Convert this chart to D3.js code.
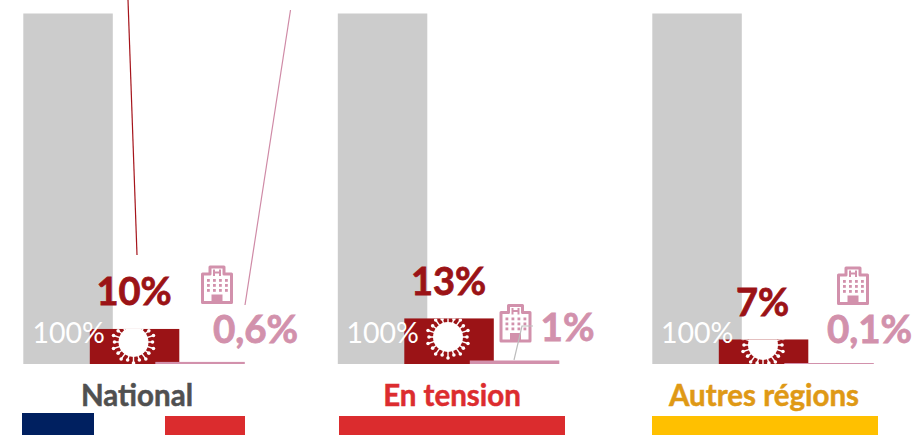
<!DOCTYPE html>
<html>
<head>
<meta charset="utf-8">
<script src="https://cdn.jsdelivr.net/npm/d3@7"></script>
<style>
  html, body { margin: 0; padding: 0; background: #fff; }
  text { font-family: Lato, "Open Sans", sans-serif; }
</style>
</head>
<body>
<svg id="chart" width="917" height="435"></svg>
<script>
// data
const regions = ["National", "En tension", "Autres régions"];
const totalValues = [100, 100, 100];
const caseValues = [10, 13, 7];
const hospValues = [0.6, 1, 0.1];
const totalLabels = ["100%", "100%", "100%"];
const caseLabels = ["10%", "13%", "7%"];
const hospLabels = ["0,6%", "1%", "0,1%"];
const regionColors = ["#505050", "#dc2c2f", "#df9915"];

const svg = d3.select("#chart");

// one group every 314.5px, bars overlap each other inside the group
const x = d3.scaleLinear().domain([0, 1]).range([23.3, 337.8]);
const y = d3.scaleLinear().domain([0, 100]).range([364, 13.5]);
const barW = 89.5;
const offsets = { total: 0, cases: 66.5, hosp: 132 };

const grey = "#cccccc", red = "#9b1316", pink = "#d291ac";

const groups = svg.selectAll("g.region")
  .data(regions)
  .join("g")
    .attr("class", "region");

// grey bars
groups.append("rect")
  .attr("x", (d, i) => x(i) + offsets.total)
  .attr("y", (d, i) => y(totalValues[i]))
  .attr("width", barW)
  .attr("height", (d, i) => y(0) - y(totalValues[i]))
  .attr("fill", grey);

// red bars
groups.append("rect")
  .attr("x", (d, i) => x(i) + offsets.cases)
  .attr("y", (d, i) => y(caseValues[i]))
  .attr("width", barW)
  .attr("height", (d, i) => y(0) - y(caseValues[i]))
  .attr("fill", red);

// pink bars, the smallest one still shows as a thin line
groups.append("rect")
  .attr("x", (d, i) => x(i) + offsets.hosp)
  .attr("y", (d, i) => Math.min(y(hospValues[i]), y(0) - 1))
  .attr("width", barW)
  .attr("height", (d, i) => Math.max(y(0) - y(hospValues[i]), 1))
  .attr("fill", pink);

// virus icon, cut off by the red bar
const virusPos = [[133.5, 342], [448, 337], [763, 345]];
const defs = svg.append("defs");
regions.forEach((r, i) => {
  defs.append("clipPath").attr("id", "bar" + i)
    .append("rect")
    .attr("x", x(i) + offsets.cases)
    .attr("y", y(caseValues[i]))
    .attr("width", barW)
    .attr("height", y(0) - y(caseValues[i]));

  const v = svg.append("g")
    .attr("clip-path", `url(#bar${i})`)
    .append("g")
    .attr("transform", `translate(${virusPos[i]})`)
    .attr("fill", "#fff")
    .attr("stroke", "#fff");
  v.append("circle").attr("r", 15).attr("stroke", "none");
  d3.range(20).forEach(k => {
    const a = k / 20 * 2 * Math.PI, rr = k % 2 ? 21 : 19;
    v.append("line")
      .attr("x1", 14 * Math.cos(a)).attr("y1", 14 * Math.sin(a))
      .attr("x2", rr * Math.cos(a)).attr("y2", rr * Math.sin(a))
      .attr("stroke-width", 1.4);
    v.append("circle")
      .attr("cx", rr * Math.cos(a)).attr("cy", rr * Math.sin(a))
      .attr("r", 1.8).attr("stroke", "none");
  });
});

// hospital icon
const hospPos = [[217, 284.5], [515.5, 323], [853, 285.5]];
hospPos.forEach(p => {
  const h = svg.append("g").attr("transform", `translate(${p})`);
  h.append("path")
    .attr("d", "M-14.5,-10.5H-7V-17.5H7V-10.5H14.5V18H-14.5Z")
    .attr("fill", "#fff").attr("stroke", pink).attr("stroke-width", 3)
    .attr("stroke-linejoin", "round");
  h.append("path")
    .attr("d", "M-3,-15V-8.5M3,-15V-8.5M-3,-12H3")
    .attr("fill", "none").attr("stroke", pink).attr("stroke-width", 2);
  d3.range(3).forEach(r => d3.range(4).forEach(c => {
    h.append("rect")
      .attr("x", -10 + c * 6).attr("y", -5.5 + r * 5)
      .attr("width", 2.8).attr("height", 2.8).attr("fill", pink);
  }));
  h.append("rect").attr("x", -5.5).attr("y", 10).attr("width", 11).attr("height", 8).attr("fill", pink);
});

// leader lines
const leaders = [
  { pts: [[128, 0], [137, 255]], color: "#a5141b", w: 1.2 },
  { pts: [[290.5, 10], [245, 305]], color: "#cf8aa6", w: 1.2 },
  { pts: [[533, 326], [522, 326], [514, 360]], color: "#bdbdbd", w: 1.2 }
];
svg.selectAll("path.leader")
  .data(leaders)
  .join("path")
    .attr("class", "leader")
    .attr("d", d => d3.line()(d.pts))
    .attr("fill", "none")
    .attr("stroke", d => d.color)
    .attr("stroke-width", d => d.w);

// value labels
const labelLayout = {
  total: [[32.5, 343], [346.5, 343], [661, 343]],
  cases: [[134, 305], [448.5, 295], [762.5, 316]],
  hosp: [[255.5, 343], [567.5, 341], [869.5, 343]]
};
svg.selectAll("text.total")
  .data(totalLabels)
  .join("text")
    .attr("class", "total")
    .attr("x", (d, i) => labelLayout.total[i][0])
    .attr("y", (d, i) => labelLayout.total[i][1])
    .attr("font-size", 28.5)
    .attr("fill", "#fff")
    .text(d => d);
svg.selectAll("text.cases")
  .data(caseLabels)
  .join("text")
    .attr("class", "cases")
    .attr("x", (d, i) => labelLayout.cases[i][0])
    .attr("y", (d, i) => labelLayout.cases[i][1])
    .attr("text-anchor", "middle")
    .attr("font-size", 38)
    .attr("font-weight", 700)
    .attr("fill", red)
    .attr("stroke", red)
    .attr("stroke-width", 0.8)
    .text(d => d);
svg.selectAll("text.hosp")
  .data(hospLabels)
  .join("text")
    .attr("class", "hosp")
    .attr("x", (d, i) => labelLayout.hosp[i][0])
    .attr("y", (d, i) => labelLayout.hosp[i][1])
    .attr("text-anchor", "middle")
    .attr("font-size", 38.5)
    .attr("font-weight", 700)
    .attr("fill", pink)
    .attr("stroke", pink)
    .attr("stroke-width", 0.8)
    .text(d => d);

// region names and colour strips
const nameX = [137, 452, 764];
svg.selectAll("text.name")
  .data(regions)
  .join("text")
    .attr("class", "name")
    .attr("x", (d, i) => nameX[i])
    .attr("y", 406)
    .attr("text-anchor", "middle")
    .attr("font-size", 29.5)
    .attr("font-weight", 700)
    .attr("fill", (d, i) => regionColors[i])
    .attr("stroke", (d, i) => regionColors[i])
    .attr("stroke-width", 0.5)
    .text(d => d);

const strips = [
  { x0: 22, x1: 94, y0: 413, color: "#002060" },
  { x0: 165, x1: 245, y0: 416, color: "#db2c2e" },
  { x0: 339, x1: 565, y0: 416, color: "#db2c2e" },
  { x0: 652, x1: 878, y0: 416, color: "#ffc000" }
];
svg.selectAll("rect.strip")
  .data(strips)
  .join("rect")
    .attr("class", "strip")
    .attr("x", d => d.x0)
    .attr("y", d => d.y0)
    .attr("width", d => d.x1 - d.x0)
    .attr("height", d => 435 - d.y0)
    .attr("fill", d => d.color);
</script>
</body>
</html>
